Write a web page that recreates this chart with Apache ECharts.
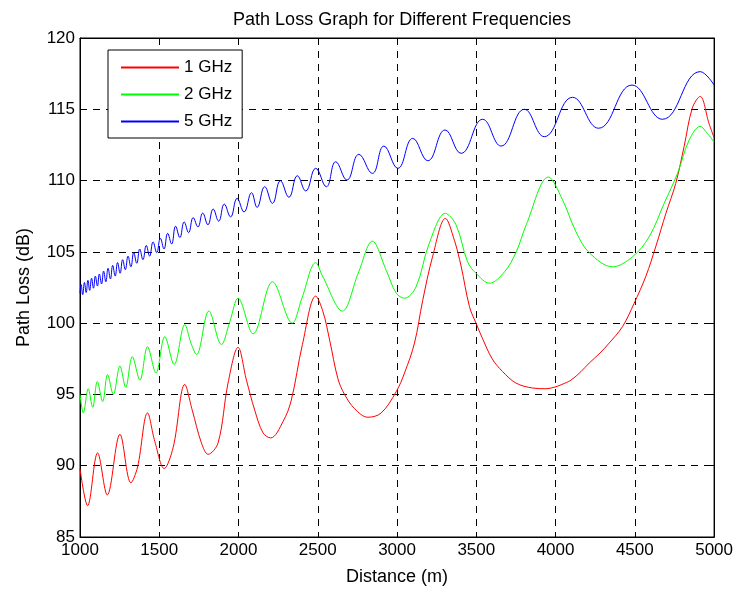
<!DOCTYPE html>
<html>
<head>
<meta charset="utf-8">
<script src="https://cdn.jsdelivr.net/npm/echarts@6/dist/echarts.min.js"></script>
<style>
  html, body { margin: 0; padding: 0; background: #fff; }
  #chart { width: 736px; height: 593px; }
</style>
</head>
<body>
<div id="chart"></div>
<script>
// values
var seriesNames = ['1 GHz', '2 GHz', '5 GHz'];
var seriesColors = ['#ff0000', '#00ff00', '#0000ff'];
var xTicks = [1000, 1500, 2000, 2500, 3000, 3500, 4000, 4500, 5000];
var yTicks = [85, 90, 95, 100, 105, 110, 115, 120];

// 1 GHz
var dist1 = [1000, 1048, 1111, 1172, 1252, 1321, 1363, 1426, 1472, 1531, 1588, 1661, 1708, 1766, 1808,
  1871, 1934, 1997, 2050, 2102, 2155, 2203, 2281, 2333, 2403, 2487, 2533, 2575, 2627, 2669, 2732,
  2816, 2900, 2995, 3047, 3110, 3162, 3225, 3305, 3362, 3404, 3457, 3498, 3540, 3600, 3666, 3750, 3855,
  3940, 3990, 4040, 4097, 4160, 4212, 4280, 4338, 4422, 4496, 4570, 4633, 4696, 4758, 4811, 4863, 4912, 4968, 5000];
var loss1 = [89.8, 87.2, 90.9, 87.95, 92.2, 88.8, 89.9, 93.7, 91.7, 89.8, 91.3, 95.7, 93.9, 91.6, 90.8,
  91.6, 95.8, 98.3, 96.0, 93.9, 92.3, 91.95, 93.1, 94.6, 98.5, 101.9, 100.8, 98.8, 96.1, 95.0, 94.0,
  93.4, 93.7, 95.2, 96.5, 98.6, 101.6, 104.7, 107.35, 105.8, 104.0, 101.15, 100.0, 98.9, 97.5, 96.6, 95.8, 95.45,
  95.4, 95.5, 95.7, 96.0, 96.6, 97.2, 97.9, 98.6, 99.75, 101.4, 103.3, 105.4, 107.7, 109.8, 112.4, 115.1, 115.9, 114.0, 113.0];

// 2 GHz
var dist2 = [1000, 1021, 1052, 1080, 1109, 1143, 1174, 1210, 1252, 1288, 1330, 1378, 1426, 1479, 1535,
  1594, 1661, 1700, 1735, 1813, 1892, 1945, 1997, 2092, 2214, 2339, 2400, 2487, 2530, 2655, 2755,
  2844, 2932, 2995, 3047, 3120, 3203, 3305, 3372, 3445, 3498, 3583, 3678, 3752, 3815, 3955, 4044,
  4129, 4212, 4359, 4485, 4590, 4685, 4769, 4843, 4912, 4958, 5000];
var loss2 = [95.0, 93.7, 95.4, 94.1, 95.9, 94.5, 96.4, 95.0, 97.0, 95.5, 97.65, 96.0, 98.35, 96.5, 99.05,
  97.1, 99.9, 98.6, 97.8, 100.85, 98.5, 100.1, 101.75, 99.25, 102.9, 100.0, 101.75, 104.25, 103.3, 100.85, 103.5,
  105.75, 103.7, 102.1, 101.75, 102.55, 105.6, 107.7, 106.9, 104.3, 103.5, 102.8, 103.6, 105.0, 106.9, 110.25, 108.65,
  106.4, 104.95, 103.95, 104.65, 106.05, 108.4, 110.5, 112.85, 113.8, 113.3, 112.7];

// 5 GHz
var dist5 = [1000, 1007, 1017, 1028, 1039, 1050, 1061, 1073, 1085, 1097, 1110, 1122, 1136, 1149, 1163,
  1177, 1192, 1206, 1222, 1237, 1253, 1269, 1286, 1303, 1321, 1339, 1358, 1377, 1397, 1418, 1439,
  1461, 1484, 1507, 1530, 1553, 1578, 1603, 1630, 1657, 1685, 1714, 1744, 1774, 1807, 1840, 1875,
  1910, 1950, 1991, 2035, 2082, 2117, 2165, 2214, 2264, 2318, 2371, 2424, 2487, 2554, 2613, 2684,
  2759, 2844, 2917, 3005, 3099, 3194, 3303, 3404, 3540, 3656, 3803, 3929, 4107, 4271, 4482, 4674,
  4912, 5000];
var loss5 = [102.1, 102.7, 102.0, 102.85, 102.15, 103.0, 102.3, 103.15, 102.45, 103.3, 102.6, 103.45, 102.75, 103.65, 102.9,
  103.85, 103.1, 104.05, 103.3, 104.25, 103.5, 104.45, 103.75, 104.7, 103.95, 104.95, 104.2, 105.2, 104.45, 105.45, 104.7,
  105.7, 104.95, 105.95, 105.2, 106.3, 105.55, 106.8, 106.0, 107.1, 106.35, 107.4, 106.75, 107.72, 106.9, 108.0, 107.15,
  108.35, 107.45, 108.75, 107.8, 109.15, 108.12, 109.57, 108.4, 109.99, 108.83, 110.34, 109.27, 110.86, 109.57, 111.32, 110.04,
  111.84, 110.5, 112.42, 110.86, 112.96, 111.39, 113.55, 111.91, 114.3, 112.42, 115.0, 113.08, 115.84, 113.67, 116.7, 114.3,
  117.64, 116.7];

function pairs(xs, ys) {
  var out = [];
  for (var i = 0; i < xs.length; i++) out.push([xs[i], ys[i]]);
  return out;
}

var chartDom = document.getElementById('chart');
var myChart = echarts.init(chartDom);
var option;

var font = 'Liberation Sans, Arial, sans-serif';
var gridDash = { color: '#000', width: 1, type: [7, 6] };
var tickStyle = { inside: true, length: 5, lineStyle: { color: '#000', width: 1 } };

option = {
  animation: false,
  backgroundColor: '#fff',
  title: {
    text: 'Path Loss Graph for Different Frequencies',
    left: 397,
    textAlign: 'center',
    top: 6,
    textStyle: { fontFamily: font, fontSize: 18, fontWeight: 'normal', color: '#000' }
  },
  legend: {
    data: seriesNames,
    orient: 'vertical',
    left: 108,
    top: 50,
    padding: [9, 10, 8, 12],
    itemGap: 10,
    itemWidth: 58,
    itemHeight: 17,
    backgroundColor: '#fff',
    borderColor: '#000',
    borderWidth: 1,
    borderRadius: 0,
    itemStyle: { opacity: 0 },
    textStyle: { fontFamily: font, fontSize: 17, lineHeight: 17, color: '#000' }
  },
  grid: {
    left: 80,
    right: 21,
    top: 38,
    bottom: 56,
    show: true,
    borderColor: '#000',
    borderWidth: 1,
    backgroundColor: '#fff'
  },
  xAxis: [
    {
      type: 'value',
      min: xTicks[0],
      max: xTicks[xTicks.length - 1],
      interval: 500,
      name: 'Distance (m)',
      nameLocation: 'middle',
      nameGap: 31,
      nameTextStyle: { fontFamily: font, fontSize: 18, color: '#000' },
      axisLine: { show: true, lineStyle: { color: '#000', width: 1 } },
      axisTick: tickStyle,
      axisLabel: {
        color: '#000', fontFamily: font, fontSize: 17, margin: 5,
        formatter: function (v) { return String(v); }
      },
      splitLine: { show: true, lineStyle: gridDash }
    },
    {
      type: 'value',
      position: 'top',
      min: xTicks[0],
      max: xTicks[xTicks.length - 1],
      interval: 500,
      axisLine: { show: true, lineStyle: { color: '#000', width: 1 } },
      axisTick: tickStyle,
      axisLabel: { show: false },
      splitLine: { show: false }
    }
  ],
  yAxis: [
    {
      type: 'value',
      min: yTicks[0],
      max: yTicks[yTicks.length - 1],
      interval: 5,
      name: 'Path Loss (dB)',
      nameLocation: 'middle',
      nameGap: 47,
      nameTextStyle: { fontFamily: font, fontSize: 18, color: '#000' },
      axisLine: { show: true, lineStyle: { color: '#000', width: 1 } },
      axisTick: tickStyle,
      axisLabel: {
        color: '#000', fontFamily: font, fontSize: 17, margin: 5,
        formatter: function (v) { return String(v); }
      },
      splitLine: { show: true, lineStyle: gridDash }
    },
    {
      type: 'value',
      position: 'right',
      min: yTicks[0],
      max: yTicks[yTicks.length - 1],
      interval: 5,
      axisLine: { show: true, lineStyle: { color: '#000', width: 1 } },
      axisTick: tickStyle,
      axisLabel: { show: false },
      splitLine: { show: false }
    }
  ],
  series: [
    {
      name: seriesNames[0],
      type: 'line',
      symbol: 'none',
      smooth: 0.35,
      lineStyle: { color: seriesColors[0], width: 1 },
      itemStyle: { color: seriesColors[0] },
      data: pairs(dist1, loss1)
    },
    {
      name: seriesNames[1],
      type: 'line',
      symbol: 'none',
      smooth: 0.35,
      lineStyle: { color: seriesColors[1], width: 1 },
      itemStyle: { color: seriesColors[1] },
      data: pairs(dist2, loss2)
    },
    {
      name: seriesNames[2],
      type: 'line',
      symbol: 'none',
      smooth: 0.45,
      lineStyle: { color: seriesColors[2], width: 1 },
      itemStyle: { color: seriesColors[2] },
      data: pairs(dist5, loss5)
    }
  ]
};

if (option && typeof option === 'object') {
  myChart.setOption(option);
}

window.onresize = function () {
  myChart.resize();
};
</script>
</body>
</html>
